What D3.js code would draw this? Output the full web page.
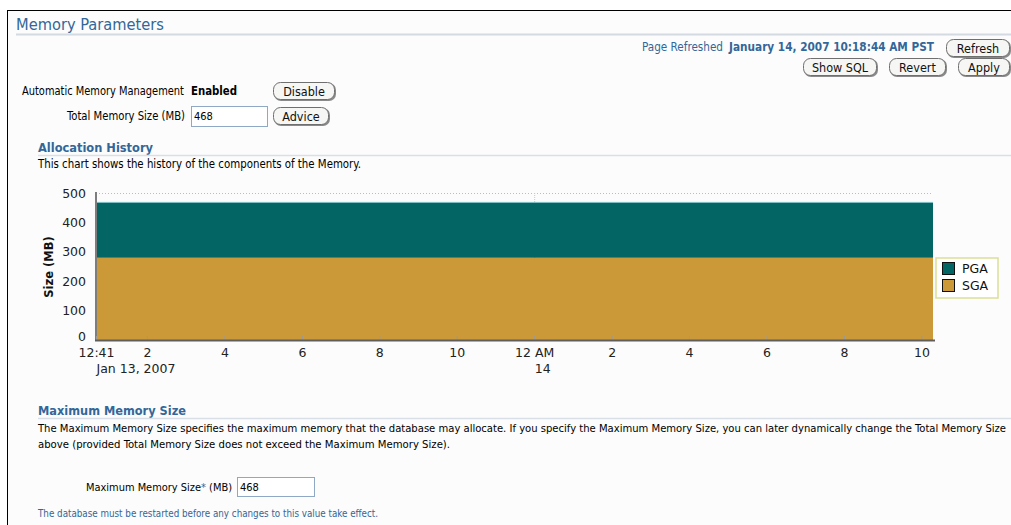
<!DOCTYPE html>
<html>
<head>
<meta charset="utf-8">
<script src="https://cdn.jsdelivr.net/npm/d3@7/dist/d3.min.js"></script>
<style>
  html, body { margin: 0; padding: 0; background: #ffffff; overflow: hidden; }
  svg { display: block; }
</style>
</head>
<body>
<script>
// ---------------- data ----------------
const sampleTimes = ["2007-01-13T12:41","2007-01-13T14:00","2007-01-13T16:00","2007-01-13T18:00",
  "2007-01-13T20:00","2007-01-13T22:00","2007-01-14T00:00","2007-01-14T02:00","2007-01-14T04:00",
  "2007-01-14T06:00","2007-01-14T08:00","2007-01-14T10:00","2007-01-14T10:18"];
const sgaValues = [280,280,280,280,280,280,280,280,280,280,280,280,280];
const pgaValues = [188,188,188,188,188,188,188,188,188,188,188,188,188];
const seriesNames = ["PGA","SGA"];
const yTickValues = [0,100,200,300,400,500];
const xTickTimes = ["2007-01-13T12:41","2007-01-13T14:00","2007-01-13T16:00","2007-01-13T18:00",
  "2007-01-13T20:00","2007-01-13T22:00","2007-01-14T00:00","2007-01-14T02:00","2007-01-14T04:00",
  "2007-01-14T06:00","2007-01-14T08:00","2007-01-14T10:00"];
const xTickLine1 = ["12:41","2","4","6","8","10","12 AM","2","4","6","8","10"];
const xTickLine2 = ["Jan 13, 2007","","","","","","14","","","","",""];
const gridTimes = ["2007-01-14T00:00"];

// ---------------- setup ----------------
const W = 1011, H = 525;
const BLUE = "#336699";
const UI = "'DejaVu Sans Condensed', 'DejaVu Sans', sans-serif";
const CH = "'DejaVu Sans', Verdana, sans-serif";
const colors = { PGA: "#046664", SGA: "#cb9937" };

const svg = d3.select("body").append("svg").attr("width", W).attr("height", H);
svg.append("rect").attr("width", W).attr("height", H).attr("fill", "#ffffff");
svg.append("rect").attr("x", 7).attr("y", 10).attr("width", W - 7).attr("height", H - 10).attr("fill", "#fbfcfb");
svg.append("line").attr("x1", 7).attr("x2", W).attr("y1", 10.5).attr("y2", 10.5).attr("stroke", "#000");
svg.append("line").attr("x1", 7.5).attr("x2", 7.5).attr("y1", 10).attr("y2", H).attr("stroke", "#000");

function txt(x, y, s, o = {}) {
  const t = svg.append("text").attr("x", x).attr("y", y)
    .attr("font-family", o.family || UI)
    .attr("font-size", o.size || 11)
    .attr("font-weight", o.weight || "normal")
    .attr("fill", o.fill || "#000")
    .attr("text-anchor", o.anchor || "start")
    .text(s);
  if (o.len) t.attr("textLength", o.len).attr("lengthAdjust", "spacingAndGlyphs");
  return t;
}
function hline(x1, x2, y, c, w) {
  svg.append("line").attr("x1", x1).attr("x2", x2).attr("y1", y).attr("y2", y)
    .attr("stroke", c).attr("stroke-width", w || 1);
}
function button(x1, y1, x2, y2, label) {
  const w = x2 - x1, h = y2 - y1;
  svg.append("rect").attr("x", x1 + 1).attr("y", y1 + 1).attr("width", w).attr("height", h)
    .attr("rx", 7).attr("fill", "#8a8a8a");
  svg.append("rect").attr("x", x1 + 0.5).attr("y", y1 + 0.5).attr("width", w - 1).attr("height", h - 1)
    .attr("rx", 7).attr("fill", "#f6f6f4").attr("stroke", "#6f6f6f");
  txt(x1 + w / 2, y1 + h / 2 + 4.5, label, { size: 12.5, anchor: "middle", fill: "#111" });
}
function inputBox(x1, y1, x2, y2, val) {
  svg.append("rect").attr("x", x1 + 0.5).attr("y", y1 + 0.5).attr("width", x2 - x1).attr("height", y2 - y1)
    .attr("fill", "#fff").attr("stroke", "#8fa8c4");
  txt(x1 + 3, y1 + 13.5, val, { size: 11 });
}

// ---------------- page header ----------------
txt(16, 30, "Memory Parameters", { size: 15.5, fill: BLUE, len: 148 });
hline(16, W, 34.5, "#d3dae2", 2);

txt(642, 51, "Page Refreshed", { size: 11.5, fill: BLUE, len: 81 });
txt(729, 51, "January 14, 2007 10:18:44 AM PST", { size: 11.5, weight: "bold", fill: BLUE, len: 205 });
button(946, 39, 1010, 57, "Refresh");
button(803, 58, 877, 76, "Show SQL");
button(889, 58, 946, 76, "Revert");
button(958, 58, 1010, 76, "Apply");

txt(22, 95, "Automatic Memory Management", { size: 11.5, len: 162 });
txt(191, 95, "Enabled", { size: 11.5, weight: "bold", len: 46 });
button(273, 82, 335, 100, "Disable");
txt(185, 120, "Total Memory Size (MB)", { size: 11.5, anchor: "end", len: 118 });
inputBox(191, 106, 267, 126, "468");
button(273, 107, 329, 125, "Advice");

txt(38, 152, "Allocation History", { size: 13, weight: "bold", fill: BLUE, len: 115 });
hline(38, W, 155.5, "#d9dfe6", 1.5);
txt(38, 168, "This chart shows the history of the components of the Memory.", { size: 11.5, len: 323 });

// ---------------- chart ----------------
const parse = d3.timeParse("%Y-%m-%dT%H:%M");
const rows = sampleTimes.map((t, i) => ({ t: parse(t), SGA: sgaValues[i], PGA: pgaValues[i] }));
const x = d3.scaleTime().domain([parse(sampleTimes[0]), parse(sampleTimes[sampleTimes.length - 1])]).range([96, 933]);
const y = d3.scaleLinear().domain([0, 500]).range([340, 193]);

const chart = svg.append("g");
chart.selectAll(".hg").data(yTickValues.filter(v => v > 0)).join("line")
  .attr("x1", 96).attr("x2", 933).attr("y1", d => y(d) + 0.5).attr("y2", d => y(d) + 0.5)
  .attr("stroke", "#c9c47a").attr("stroke-dasharray", "1,2");
chart.selectAll(".vg").data(gridTimes.map(parse)).join("line")
  .attr("x1", d => x(d) + 0.5).attr("x2", d => x(d) + 0.5).attr("y1", 193).attr("y2", 340)
  .attr("stroke", "#c9c9c9").attr("stroke-dasharray", "1,1");

const stack = d3.stack().keys(["SGA", "PGA"]);
const layers = stack(rows);
const area = d3.area().x(d => x(d.data.t)).y0(d => y(d[0])).y1(d => y(d[1]));
chart.selectAll(".layer").data(layers).join("path")
  .attr("d", area).attr("fill", d => colors[d.key]);
const topLine = d3.line().x(d => x(d.data.t)).y(d => y(d[1]));
chart.append("path").datum(layers[1]).attr("d", topLine)
  .attr("fill", "none").attr("stroke", "#7fbfc3").attr("stroke-width", 1);

// y axis
const yAxis = chart.append("g").attr("transform", "translate(96,0)")
  .call(d3.axisLeft(y).tickValues(yTickValues).tickSize(0).tickPadding(10));
yAxis.select(".domain").remove();
yAxis.selectAll("text").attr("font-family", CH).attr("font-size", 12.5).attr("fill", "#222")
  .attr("dy", d => d === 0 ? "0.05em" : "0.32em");
chart.append("line").attr("x1", 96).attr("x2", 96).attr("y1", 192).attr("y2", 341)
  .attr("stroke", "#7d7d7d").attr("stroke-width", 2);

// x axis
const xAxis = chart.append("g").attr("transform", "translate(0,340)")
  .call(d3.axisBottom(x).tickValues(xTickTimes.map(parse)).tickSize(-4).tickPadding(8)
    .tickFormat((d, i) => xTickLine1[i]));
xAxis.select(".domain").remove();
xAxis.selectAll(".tick line").attr("stroke", "#9a9a9a");
xAxis.selectAll("text").attr("font-family", CH).attr("font-size", 12.5).attr("fill", "#222");
xAxis.selectAll(".tick").each(function (d, i) {
  if (xTickLine2[i]) {
    d3.select(this).append("text")
      .attr("x", 0).attr("y", 33).attr("text-anchor", "start")
      .attr("font-family", CH).attr("font-size", 12.5).attr("fill", "#222")
      .text(xTickLine2[i]);
  }
});
chart.append("line").attr("x1", 95).attr("x2", 935).attr("y1", 340.5).attr("y2", 340.5)
  .attr("stroke", "#5e5e5e").attr("stroke-width", 2);

// y title
svg.append("text").attr("transform", "translate(53,267) rotate(-90)")
  .attr("text-anchor", "middle").attr("font-family", CH).attr("font-size", 11.5)
  .attr("font-weight", "bold").attr("fill", "#111").text("Size (MB)");

// legend
const lg = svg.append("g");
lg.append("rect").attr("x", 936).attr("y", 258).attr("width", 62).attr("height", 40)
  .attr("fill", "#ffffff").attr("stroke", "#dcdf96").attr("stroke-width", 1.5);
seriesNames.forEach((k, i) => {
  lg.append("rect").attr("x", 942.5).attr("y", 262.5 + i * 17).attr("width", 12).attr("height", 12)
    .attr("fill", colors[k]).attr("stroke", "#111");
  lg.append("text").attr("x", 962).attr("y", 273 + i * 17).attr("font-family", CH)
    .attr("font-size", 12.5).attr("fill", "#111").text(k);
});

// ---------------- lower section ----------------
txt(38, 415, "Maximum Memory Size", { size: 13, weight: "bold", fill: BLUE, len: 148 });
hline(38, W, 418.5, "#d9dfe6", 1.5);
txt(38, 432, "The Maximum Memory Size specifies the maximum memory that the database may allocate. If you specify the Maximum Memory Size, you can later dynamically change the Total Memory Size",
  { size: 10.5, len: 968 });
txt(38, 448, "above (provided Total Memory Size does not exceed the Maximum Memory Size).", { size: 10.5, len: 412 });

const ml = svg.append("text").attr("x", 86).attr("y", 491)
  .attr("font-family", UI).attr("font-size", 11).attr("fill", "#000")
  .attr("textLength", 146).attr("lengthAdjust", "spacingAndGlyphs");
ml.append("tspan").text("Maximum Memory Size");
ml.append("tspan").attr("fill", BLUE).text("*");
ml.append("tspan").text(" (MB)");
inputBox(237, 477, 314, 496, "468");

txt(38, 517, "The database must be restarted before any changes to this value take effect.", { size: 10.5, fill: BLUE, len: 340 });
</script>
</body>
</html>
